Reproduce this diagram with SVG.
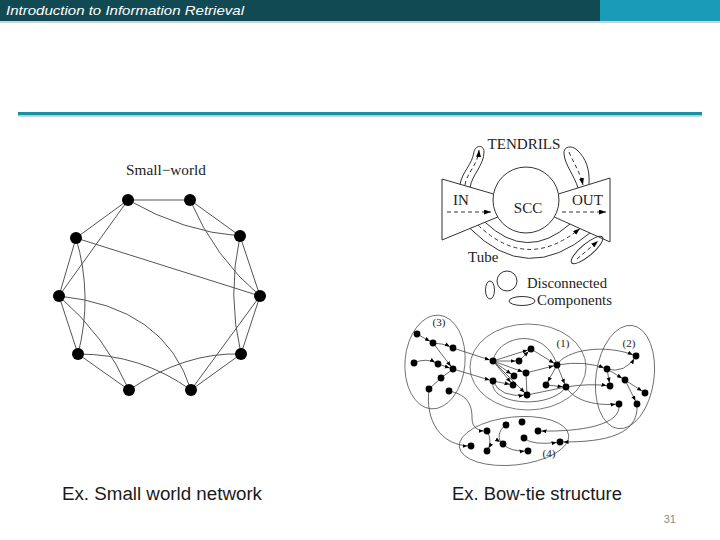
<svg xmlns="http://www.w3.org/2000/svg" width="720" height="540" viewBox="0 0 720 540">
<style>
.hdr{font-family:"Liberation Sans","DejaVu Sans",sans-serif;font-style:italic;font-size:13px;fill:#ffffff}
.foot{font-family:"Liberation Sans","DejaVu Sans",sans-serif;font-size:18px;fill:#1a1a1a}
.serif{font-family:"Liberation Serif","DejaVu Serif",serif;fill:#222}
.sw{stroke:#555;stroke-width:1;fill:none}
.swn{fill:#000}
.bt{stroke:#333;stroke-width:1;fill:none}
.dash{stroke:#333;stroke-width:1;fill:none;stroke-dasharray:4 3}
.e{stroke:#444;stroke-width:0.8;fill:none}
.ea{stroke:#444;stroke-width:0.8;fill:none;marker-end:url(#ah)}
.d{fill:#000}
.grp{stroke:#555;stroke-width:0.8;fill:none}
</style>
<defs>
<marker id="ah" markerUnits="userSpaceOnUse" markerWidth="10" markerHeight="6" refX="8.5" refY="2" orient="auto" viewBox="0 0 10 4">
<path d="M0,0 L5,2 L0,4 z" fill="#000" stroke="none"/>
</marker>
<marker id="ab" markerUnits="userSpaceOnUse" markerWidth="7" markerHeight="5" refX="7" refY="2.5" orient="auto" viewBox="0 0 7 5">
<path d="M0,0 L7,2.5 L0,5 z" fill="#000" stroke="none"/>
</marker>
</defs>

<!-- header -->
<rect x="0" y="0" width="600" height="21" fill="#124a54"/>
<rect x="600" y="0" width="120" height="21" fill="#1a9bb7"/>
<rect x="0" y="21" width="720" height="2" fill="#c9d2d5"/>
<text class="hdr" x="6" y="15" textLength="238" lengthAdjust="spacingAndGlyphs">Introduction to Information Retrieval</text>

<!-- title rule -->
<rect x="18" y="112" width="684" height="3.5" fill="#1b90a3"/>
<rect x="18" y="115.5" width="684" height="1.5" fill="#c4dde2"/>

<!-- Small world -->
<text class="serif" x="166" y="175" font-size="15" text-anchor="middle" textLength="80" lengthAdjust="spacingAndGlyphs">Small−world</text>
<g id="sw-edges">
<path class="sw" d="M128,200 L190,200"/>
<path class="sw" d="M128,200 L76,238"/>
<path class="sw" d="M128,200 L59,296"/>
<path class="sw" d="M128,200 Q184,232 240,236"/>
<path class="sw" d="M190,200 L240,236"/>
<path class="sw" d="M190,200 Q215,258 260,296"/>
<path class="sw" d="M76,238 L59,296"/>
<path class="sw" d="M76,238 Q93,296 78,354"/>
<path class="sw" d="M76,238 L260,296"/>
<path class="sw" d="M240,236 L260,296"/>
<path class="sw" d="M240,236 Q227,295 241,354"/>
<path class="sw" d="M260,296 L241,354"/>
<path class="sw" d="M260,296 L191,390"/>
<path class="sw" d="M59,296 L78,354"/>
<path class="sw" d="M59,296 Q106,337 129,390"/>
<path class="sw" d="M59,296 Q165,307 191,390"/>
<path class="sw" d="M78,354 L129,390"/>
<path class="sw" d="M78,354 Q141,354 191,390"/>
<path class="sw" d="M129,390 Q185,352 241,354"/>
<path class="sw" d="M191,390 L241,354"/>
</g>
<g id="sw-n1"><circle class="swn" cx="128" cy="200" r="6"/></g>
<g id="sw-n2"><circle class="swn" cx="190" cy="200" r="6"/></g>
<g id="sw-n3"><circle class="swn" cx="240" cy="236" r="6"/></g>
<g id="sw-n4"><circle class="swn" cx="260" cy="296" r="6"/></g>
<g id="sw-n5"><circle class="swn" cx="241" cy="354" r="6"/></g>
<g id="sw-n6"><circle class="swn" cx="191" cy="390" r="6"/></g>
<g id="sw-n7"><circle class="swn" cx="129" cy="390" r="6"/></g>
<g id="sw-n8"><circle class="swn" cx="78" cy="354" r="6"/></g>
<g id="sw-n9"><circle class="swn" cx="59" cy="296" r="6"/></g>
<g id="sw-n10"><circle class="swn" cx="76" cy="238" r="6"/></g>

<!-- Bow-tie -->
<g id="bowtie">
<text class="serif" x="524" y="149" font-size="14" text-anchor="middle" textLength="73" lengthAdjust="spacingAndGlyphs">TENDRILS</text>
<g id="scc">
<circle class="bt" cx="526" cy="200" r="33"/>
<text class="serif" x="528" y="213" font-size="15" text-anchor="middle">SCC</text>
</g>
<g id="in">
<path class="bt" d="M493.6,194 L442,179 L442,240 L497.7,217"/>
<text class="serif" x="453" y="205" font-size="15">IN</text>
<path class="dash" d="M447,212 L491,212" marker-end="url(#ab)"/>
</g>
<g id="out">
<path class="bt" d="M558.4,194 L610,178 L610,242 L554.3,217"/>
<text class="serif" x="572" y="205" font-size="15">OUT</text>
<path class="dash" d="M562,212 L606,212" marker-end="url(#ab)"/>
</g>
<g id="tendril-in">
<path class="bt" d="M460,184.5 C462,172 472,165 474,152 C475,145 484,144 484,152 C484,165 472,175 470,187.4"/>
<path class="dash" d="M465,185 C467,172 478,165 479,150" marker-end="url(#ab)"/>
</g>
<g id="tendril-out">
<path class="bt" d="M578,187.9 C574,175 565,165 564,154 C563,146 572,145 577,150 C586,158 590,170 589,184.4"/>
<path class="dash" d="M569,152 C574,164 580,172 583,185" marker-end="url(#ab)"/>
</g>
<g id="tube">
<path class="bt" d="M485,222.2 Q527,262 570,224"/>
<path class="dash" d="M478,225.1 Q527,272 580,228.5" marker-end="url(#ab)"/>
<path class="bt" d="M470,228.4 Q527,286 590,233"/>
<text class="serif" x="468" y="262" font-size="15">Tube</text>
</g>
<g id="tendril-out2">
<ellipse class="bt" cx="587" cy="250" rx="20" ry="6" transform="rotate(-40 587 250)"/>
<path class="dash" d="M577,259 L598,241" marker-end="url(#ab)"/>
</g>
<g id="disconnected">
<ellipse class="bt" cx="490" cy="290" rx="4.5" ry="9"/>
<circle class="bt" cx="507" cy="281" r="10"/>
<ellipse class="bt" cx="522" cy="301" rx="13" ry="4.5"/>
<text class="serif" x="527" y="288" font-size="14" textLength="80" lengthAdjust="spacingAndGlyphs">Disconnected</text>
<text class="serif" x="537" y="305" font-size="14" textLength="75" lengthAdjust="spacingAndGlyphs">Components</text>
</g>
</g>

<!-- Component graph -->
<g id="groups">
<ellipse class="grp" cx="435" cy="362" rx="30" ry="47" transform="rotate(5 435 362)"/>
<ellipse class="grp" cx="528" cy="367" rx="58" ry="43"/>
<ellipse class="grp" cx="625" cy="377" rx="29" ry="52" transform="rotate(8 625 377)"/>
<ellipse class="grp" cx="514" cy="441" rx="55" ry="24" transform="rotate(-6 514 441)"/>
<text class="serif" x="439" y="326" font-size="11" text-anchor="middle">(3)</text>
<text class="serif" x="563" y="347" font-size="11" text-anchor="middle">(1)</text>
<text class="serif" x="629" y="347" font-size="11" text-anchor="middle">(2)</text>
<text class="serif" x="549" y="457" font-size="11" text-anchor="middle">(4)</text>
</g>
<g id="connectors">
<path class="ea" d="M417,334 L433,343"/>
<path class="ea" d="M433,343 Q443,343 453,348"/>
<path class="ea" d="M433,343 L453,369"/>
<path class="ea" d="M414,363 Q426,357 438,364"/>
<path class="ea" d="M438,364 L453,369"/>
<path class="e" d="M453,369 L441,378"/>
<path class="e" d="M441,378 L429,389"/>
<path class="ea" d="M453,348 L493,361"/>
<path class="ea" d="M453,369 L493,381"/>
<path class="ea" d="M429,389 C425,420 440,446 471,446"/>
<path class="ea" d="M449,391 C470,395 472,408 472,418 C472,428 478,431 487,431"/>
<path class="ea" d="M493,361 L531,349"/>
<path class="ea" d="M493,361 L519,361"/>
<path class="ea" d="M493,361 L526,373"/>
<path class="ea" d="M493,361 L514,376"/>
<path class="ea" d="M493,361 L513,385"/>
<path class="ea" d="M493,361 L527,395"/>
<path class="ea" d="M519,361 L531,349"/>
<path class="e" d="M526,373 L527,395" stroke-width="1.6"/>
<path class="ea" d="M526,373 L557,365"/>
<path class="ea" d="M531,349 L557,365"/>
<path class="ea" d="M493,381 L513,385"/>
<path class="ea" d="M493,381 Q500,398 527,395"/>
<path class="ea" d="M557,365 L546,385"/>
<path class="ea" d="M557,365 L566,387"/>
<path class="ea" d="M546,385 L566,387"/>
<path class="e" d="M527,395 L566,387"/>
<path class="e" d="M493,361 C498,335 545,326 557,365"/>
<path class="e" d="M493,381 C488,405 550,410 566,387"/>
<path class="ea" d="M557,365 Q585,360 607,369"/>
<path class="ea" d="M557,365 C565,350 605,343 636,356"/>
<path class="ea" d="M607,369 Q625,374 636,356"/>
<path class="ea" d="M607,369 L625,380"/>
<path class="ea" d="M625,380 L645,393"/>
<path class="ea" d="M607,369 L610,386"/>
<path class="ea" d="M625,380 L637,404"/>
<path class="ea" d="M566,387 Q590,383 610,386"/>
<path class="ea" d="M566,387 C575,402 598,406 619,404"/>
<path class="ea" d="M619,404 C622,425 582,432 538,431"/>
<path class="ea" d="M637,404 C640,440 592,442 560,442"/>
<path class="ea" d="M506,425 C498,430 497,440 503,444"/>
<path class="ea" d="M503,444 Q510,452 528,451"/>
<path class="ea" d="M524,438 Q532,446 560,442"/>
<path class="ea" d="M487,431 Q493,441 487,451"/>
</g>
<g id="c3">
<circle class="d" cx="417" cy="334" r="3.4"/><circle class="d" cx="433" cy="343" r="3.4"/><circle class="d" cx="453" cy="348" r="3.4"/>
<circle class="d" cx="414" cy="363" r="3.4"/><circle class="d" cx="438" cy="364" r="3.4"/><circle class="d" cx="453" cy="369" r="3.4"/>
<circle class="d" cx="441" cy="378" r="3.4"/><circle class="d" cx="429" cy="389" r="3.4"/><circle class="d" cx="449" cy="391" r="3.4"/>
</g>
<g id="c1">
<circle class="d" cx="493" cy="361" r="3.4"/><circle class="d" cx="531" cy="349" r="3.4"/><circle class="d" cx="519" cy="361" r="3.4"/>
<circle class="d" cx="557" cy="365" r="3.4"/><circle class="d" cx="526" cy="373" r="3.4"/><circle class="d" cx="514" cy="376" r="3.4"/>
<circle class="d" cx="493" cy="381" r="3.4"/><circle class="d" cx="513" cy="385" r="3.4"/><circle class="d" cx="546" cy="385" r="3.4"/>
<circle class="d" cx="566" cy="387" r="3.4"/><circle class="d" cx="527" cy="395" r="3.4"/>
</g>
<g id="c2">
<circle class="d" cx="636" cy="356" r="3.4"/><circle class="d" cx="607" cy="369" r="3.4"/><circle class="d" cx="625" cy="380" r="3.4"/>
<circle class="d" cx="610" cy="386" r="3.4"/><circle class="d" cx="645" cy="393" r="3.4"/><circle class="d" cx="619" cy="404" r="3.4"/>
<circle class="d" cx="637" cy="404" r="3.4"/>
</g>
<g id="c4">
<circle class="d" cx="487" cy="431" r="3.4"/><circle class="d" cx="506" cy="425" r="3.4"/><circle class="d" cx="522" cy="422" r="3.4"/>
<circle class="d" cx="538" cy="431" r="3.4"/><circle class="d" cx="524" cy="438" r="3.4"/><circle class="d" cx="560" cy="442" r="3.4"/>
<circle class="d" cx="471" cy="446" r="3.4"/><circle class="d" cx="503" cy="444" r="3.4"/><circle class="d" cx="487" cy="451" r="3.4"/>
<circle class="d" cx="528" cy="451" r="3.4"/>
</g>

<!-- captions -->
<text class="foot" x="62" y="500" textLength="200" lengthAdjust="spacingAndGlyphs">Ex. Small world network</text>
<text class="foot" x="452" y="500" textLength="170" lengthAdjust="spacingAndGlyphs">Ex. Bow-tie structure</text>
<text x="676" y="523" font-family="Liberation Sans, DejaVu Sans, sans-serif" font-size="11" fill="#8a8a8a" text-anchor="end">31</text>
</svg>
